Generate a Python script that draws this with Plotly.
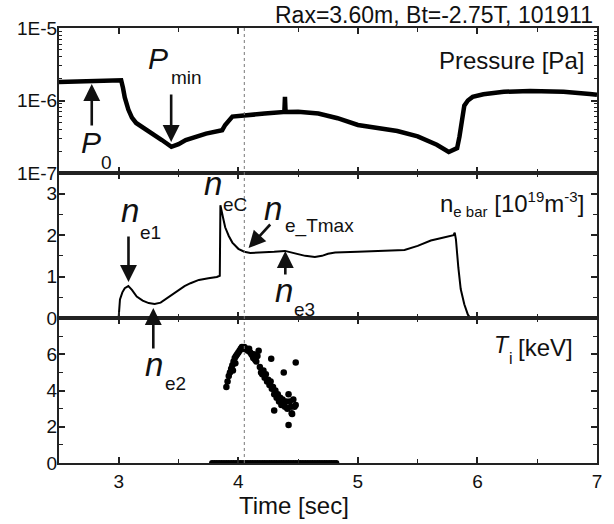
import plotly.graph_objects as go
from plotly.subplots import make_subplots

# ---------------- data ----------------
p_time = [2.5, 2.8, 3.0, 3.02, 3.035, 3.05, 3.08, 3.11, 3.145, 3.2, 3.28, 3.36, 3.44, 3.5, 3.56, 3.65,
          3.73, 3.865, 3.89, 3.95, 4.06, 4.22, 4.385, 4.39, 4.395, 4.5, 4.67, 4.83, 5.0, 5.17,
          5.33, 5.5, 5.66, 5.76, 5.83, 5.85, 5.87, 5.89, 5.92, 5.96, 6.05, 6.22, 6.44, 6.72, 6.94, 7.0]
p_val = [1.8e-6, 1.85e-6, 1.9e-6, 1.9e-6, 1.5e-6, 1.1e-6, 7.5e-7, 5.8e-7, 4.9e-7, 4.3e-7, 3.5e-7, 2.85e-7, 2.3e-7,
         2.5e-7, 2.85e-7, 3.2e-7, 3.5e-7, 3.9e-7, 4.6e-7, 6.0e-7, 6.3e-7, 6.6e-7, 6.95e-7, 1.12e-6,
         6.95e-7, 7.0e-7, 6.6e-7, 5.7e-7, 4.6e-7, 4.2e-7, 3.8e-7, 3.2e-7, 2.45e-7, 1.95e-7, 2.2e-7,
         3.2e-7, 5.5e-7, 8.5e-7, 1.0e-6, 1.12e-6, 1.22e-6, 1.32e-6, 1.35e-6, 1.32e-6, 1.23e-6, 1.2e-6]

ne_time = [2.5, 2.99, 3.0, 3.01, 3.03, 3.05, 3.08, 3.11, 3.15, 3.2, 3.25, 3.3, 3.35, 3.4, 3.45, 3.5,
           3.55, 3.6, 3.67, 3.75, 3.82, 3.845, 3.85, 3.87, 3.89, 3.92, 3.95, 4.0, 4.05, 4.1, 4.2,
           4.3, 4.39, 4.45, 4.5, 4.56, 4.64, 4.7, 4.75, 4.81, 5.0, 5.2, 5.39, 5.5, 5.61, 5.7, 5.79,
           5.80, 5.81, 5.82, 5.84, 5.86, 5.89, 5.92, 5.94, 6.0, 7.0]
ne_val = [0, 0, 0.05, 0.45, 0.62, 0.72, 0.77, 0.68, 0.52, 0.42, 0.36, 0.34, 0.37, 0.47, 0.58, 0.69,
          0.77, 0.84, 0.92, 0.96, 0.99, 1.02, 2.72, 2.45, 2.19, 1.98, 1.82, 1.67, 1.6, 1.57, 1.58,
          1.6, 1.62, 1.58, 1.54, 1.5, 1.47, 1.5, 1.55, 1.58, 1.6, 1.62, 1.64, 1.74, 1.87, 1.93, 1.99,
          2.0, 2.06, 1.9, 1.22, 0.7, 0.33, 0.08, 0.0, 0.0, 0.0]

ti_time = [3.90, 3.91, 3.92, 3.93, 3.94, 3.95, 3.955, 3.96, 3.97, 3.975, 3.98, 3.99, 4.00, 4.01,
           4.02, 4.03, 4.04, 4.05, 4.06, 4.07, 4.08, 4.09, 4.10, 4.11, 4.12, 4.125, 4.13, 4.14,
           4.15, 4.16, 4.17, 4.18, 4.19, 4.20, 4.21, 4.22, 4.23, 4.24, 4.25, 4.26, 4.27, 4.28,
           4.29, 4.30, 4.31, 4.32, 4.33, 4.34, 4.35, 4.36, 4.37, 4.38, 4.39, 4.40, 4.41, 4.42,
           4.43, 4.44, 4.45, 4.46, 4.47, 4.48, 4.275, 4.38, 4.48, 4.30, 4.42, 4.446]
ti_val = [4.2, 4.5, 4.8, 5.0, 5.2, 5.4, 5.1, 5.6, 5.8, 5.5, 5.9, 6.0, 6.1, 6.2,
          6.3, 6.4, 6.3, 6.4, 6.3, 6.3, 6.2, 6.3, 6.1, 6.0, 5.9, 5.8, 6.0, 5.7,
          5.6, 5.9, 6.2, 5.3, 5.0, 4.9, 5.1, 4.7, 4.9, 4.5, 4.6, 4.3, 4.5, 4.1,
          4.2, 3.8, 4.0, 3.6, 3.8, 3.4, 3.6, 3.2, 3.5, 3.3, 3.1, 3.4, 3.0, 3.8,
          3.4, 3.1, 2.7, 3.5, 3.1, 3.2, 5.75, 5.0, 5.55, 2.9, 2.1, 2.75]

ti_zero_time = [3.78, 3.80, 3.82, 3.84, 3.86, 3.88, 3.90, 3.92, 3.94, 3.96, 3.98, 4.00, 4.02,
                4.04, 4.06, 4.08, 4.10, 4.12, 4.14, 4.16, 4.18, 4.20, 4.22, 4.24, 4.26, 4.28,
                4.30, 4.32, 4.34, 4.36, 4.38, 4.40, 4.42, 4.44, 4.46, 4.48, 4.50, 4.52, 4.54,
                4.56, 4.58, 4.60, 4.62, 4.64, 4.66, 4.68, 4.70, 4.72, 4.74, 4.76, 4.78, 4.80, 4.82]
ti_zero_val = [0.0] * len(ti_zero_time)

x_ticks = [3, 4, 5, 6, 7]
p_ticks = [1e-7, 1e-6, 1e-5]
p_ticktext = ["1E-7", "1E-6", "1E-5"]
ne_ticks = [0, 1, 2, 3]
ti_ticks = [0, 2, 4, 6]
marker_time = 4.05

# ---------------- figure ----------------
FONT = "Liberation Sans, Arial, Helvetica, sans-serif"
W_PX, H_PX = 614, 524
L, R, T, B = 59, 13, 28, 61
PW, PH = W_PX - L - R, H_PX - T - B


def px(x):
    return (x - L) / PW


def py(y):
    return (T + PH - y) / PH


fig = make_subplots(rows=3, cols=1, shared_xaxes=True, vertical_spacing=0)

fig.add_trace(go.Scatter(x=p_time, y=p_val, mode="lines",
                         line=dict(color="black", width=4.5), showlegend=False), row=1, col=1)
fig.add_trace(go.Scatter(x=ne_time, y=ne_val, mode="lines",
                         line=dict(color="black", width=2), showlegend=False), row=2, col=1)
fig.add_trace(go.Scatter(x=ti_zero_time, y=ti_zero_val, mode="markers",
                         marker=dict(color="black", size=6), showlegend=False), row=3, col=1)
fig.add_trace(go.Scatter(x=ti_time, y=ti_val, mode="markers",
                         marker=dict(color="black", size=6.5), showlegend=False), row=3, col=1)

axis_common = dict(showline=True, linewidth=2, linecolor="#222", mirror="ticks",
                   ticks="inside", ticklen=6, tickwidth=1.5, tickcolor="#222",
                   showgrid=False, zeroline=False,
                   tickfont=dict(family=FONT, size=19, color="#111"))

for r in (1, 2, 3):
    fig.update_xaxes(range=[2.5, 7], tickvals=x_ticks,
                     minor=dict(ticks="inside", ticklen=4, tickwidth=1.2, tickcolor="#222",
                                tickvals=[2.5, 3.5, 4.5, 5.5, 6.5]),
                     showticklabels=(r == 3), row=r, col=1, **axis_common)

fig.update_yaxes(type="log", range=[-7, -5], tickvals=p_ticks, ticktext=p_ticktext,
                 minor=dict(ticks="inside", ticklen=3, tickwidth=1, tickcolor="#222",
                            tickvals=[2e-7, 3e-7, 4e-7, 5e-7, 6e-7, 7e-7, 8e-7, 9e-7,
                                      2e-6, 3e-6, 4e-6, 5e-6, 6e-6, 7e-6, 8e-6, 9e-6]),
                 ticklabelstandoff=-4, row=1, col=1, **axis_common)
fig.update_yaxes(range=[0, 3.5], tickvals=ne_ticks,
                 minor=dict(ticks="inside", ticklen=4, tickwidth=1.2, tickcolor="#222",
                            tickvals=[0.5, 1.5, 2.5]),
                 ticklabelstandoff=-4, row=2, col=1, **axis_common)
fig.update_yaxes(range=[0, 8], tickvals=ti_ticks,
                 minor=dict(ticks="inside", ticklen=4, tickwidth=1.2, tickcolor="#222",
                            tickvals=[1, 3, 5, 7]),
                 ticklabelstandoff=-4, row=3, col=1, **axis_common)

fig.add_shape(type="line", xref="x", yref="paper", x0=marker_time, x1=marker_time, y0=0, y1=1,
              line=dict(color="#777", width=1, dash="dot"))

ann = []


def text(x, y, s, size, italic=False, anchor="center"):
    ann.append(dict(xref="paper", yref="paper", x=px(x), y=py(y), text=s, showarrow=False,
                    xanchor=anchor, yanchor="middle", borderpad=0,
                    font=dict(family=FONT, size=size, color="#111",
                              style="italic" if italic else "normal")))


def arrow(tail, tip):
    ann.append(dict(xref="paper", yref="paper", x=px(tip[0]), y=py(tip[1]),
                    axref="pixel", ayref="pixel", ax=tail[0] - tip[0], ay=tail[1] - tip[1],
                    text="", showarrow=True, arrowhead=2, arrowsize=1.3, arrowwidth=2.6,
                    arrowcolor="#111", standoff=0, startstandoff=0))


# title
text(598, 15, "Rax=3.60m, Bt=-2.75T, 101911", 23, anchor="right")
# panel labels
text(589, 60, "Pressure [Pa]", 24, anchor="right")
text(589, 204, "n<sub><span style='font-size:15px'>e bar</span></sub> [10<sup><span style='font-size:15px'>19</span></sup>m<sup><span style='font-size:15px'>-3</span></sup>]", 24, anchor="right")
text(505.5, 345, "T", 23, italic=True)
text(514.5, 358, "i", 16)
text(549, 347, "[keV]", 24)
# x axis title
text(296, 506, "Time [sec]", 24)

# P_min
text(159, 58, "P", 30, italic=True)
text(187, 77.5, "min", 19)
arrow((172, 93), (172, 142))
# P_0
text(91, 142.5, "P", 30, italic=True)
text(107, 162, "0", 19)
arrow((92, 127), (92, 84))
# n_e1
text(130.5, 211, "n", 33, italic=True)
text(151, 232, "e1", 19)
arrow((129, 235), (129, 282))
# n_eC
text(214.5, 183.5, "n", 33, italic=True)
text(236, 204, "eC", 19)
# n_e_Tmax
text(274.5, 208, "n", 33, italic=True)
text(321, 226, "e_Tmax", 19)
arrow((273, 223), (250, 248))
# n_e3
text(285.5, 290.5, "n", 33, italic=True)
text(306, 309, "e3", 19)
arrow((287, 276), (287, 251))
# n_e2
text(155, 364.5, "n", 33, italic=True)
text(176, 384, "e2", 19)
arrow((154, 350), (154, 308))

fig.update_layout(width=W_PX, height=H_PX, margin=dict(l=L, r=R, t=T, b=B),
                  plot_bgcolor="white", paper_bgcolor="white", annotations=ann,
                  font=dict(family=FONT, color="#111"))

fig.write_html("out.html", config={"displayModeBar": False},
               post_script="document.body.style.margin='0';")
